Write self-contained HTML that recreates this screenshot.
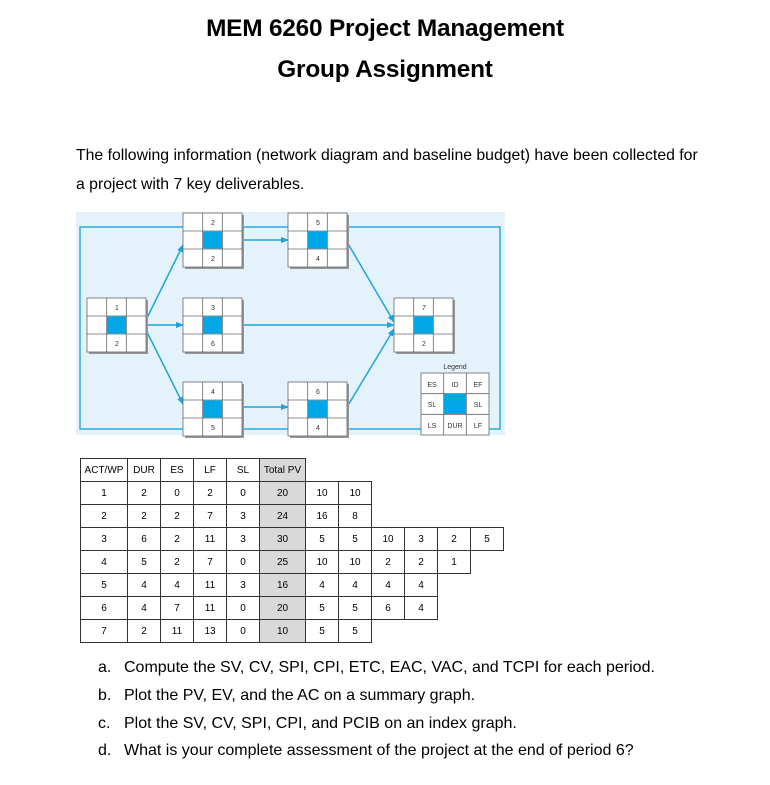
<!DOCTYPE html>
<html><head><meta charset="utf-8"><style>
body{margin:0;width:770px;height:785px;background:#fff;position:relative;font-family:"Liberation Sans",Arial,sans-serif;color:#000;overflow:hidden}
.t{position:absolute;white-space:nowrap}
h1{position:absolute;margin:0;width:770px;left:0;text-align:center;font-size:24.4px;font-weight:bold;letter-spacing:-0.2px}
table{position:absolute;border-collapse:collapse;font-size:10px;left:80px;top:458px}
td{border:1px solid #333;text-align:center;height:22px;padding:0;width:32px}
td.g{background:#d9d9d9}
td.n{border:none}
.q{position:absolute;white-space:nowrap;font-size:16px}
</style></head><body>
<h1 style="top:15px">MEM 6260 Project Management</h1>
<h1 style="top:56px">Group Assignment</h1>
<div class="t" style="left:76px;top:147px;font-size:15.8px">The following information (network diagram and baseline budget) have been collected for</div>
<div class="t" style="left:76px;top:176px;font-size:15.8px">a project with 7 key deliverables.</div>

<svg style="position:absolute;left:0;top:0" width="770" height="450" font-family="Liberation Sans,Arial,sans-serif">
<defs><marker id="a" markerWidth="8" markerHeight="8" refX="7" refY="4" orient="auto" markerUnits="userSpaceOnUse"><path d="M0,1 L8,4 L0,7 Z" fill="#1fa3dc"/></marker>
<g id="b"><rect x="2" y="2" width="59" height="54" fill="#999"/><rect x="0" y="0" width="59" height="54" fill="#fff" stroke="#666" stroke-width="0.8"/><line x1="19.7" y1="0" x2="19.7" y2="54" stroke="#666" stroke-width="0.8"/><line x1="39.3" y1="0" x2="39.3" y2="54" stroke="#666" stroke-width="0.8"/><line x1="0" y1="18" x2="59" y2="18" stroke="#666" stroke-width="0.8"/><line x1="0" y1="36" x2="59" y2="36" stroke="#666" stroke-width="0.8"/><rect x="20" y="18.5" width="19" height="17" fill="#00a7e6"/></g></defs>
<rect x="76" y="212" width="429" height="223" fill="#e4f3fb"/>
<rect x="80" y="227" width="420" height="202" fill="none" stroke="#29abe2" stroke-width="1.5"/>
<g stroke="#1fa3dc" stroke-width="1.5" fill="none" marker-end="url(#a)">
<line x1="145" y1="322" x2="183" y2="245"/>
<line x1="145" y1="325" x2="183" y2="325"/>
<line x1="145" y1="328" x2="183" y2="404"/>
<line x1="242" y1="240" x2="288" y2="240"/>
<line x1="242" y1="325" x2="394" y2="325"/>
<line x1="242" y1="407" x2="288" y2="407"/>
<line x1="347" y1="242" x2="394" y2="322"/>
<line x1="347" y1="407" x2="394" y2="329"/>
</g>
<use href="#b" x="87" y="298"/><use href="#b" x="183" y="213"/><use href="#b" x="288" y="213"/>
<use href="#b" x="183" y="298"/><use href="#b" x="394" y="298"/><use href="#b" x="183" y="382"/><use href="#b" x="288" y="382"/>
<g font-size="7" text-anchor="middle" fill="#333">
<text x="117" y="310">1</text><text x="117" y="346">2</text>
<text x="213" y="225">2</text><text x="213" y="261">2</text>
<text x="318" y="225">5</text><text x="318" y="261">4</text>
<text x="213" y="310">3</text><text x="213" y="346">6</text>
<text x="424" y="310">7</text><text x="424" y="346">2</text>
<text x="213" y="394">4</text><text x="213" y="430">5</text>
<text x="318" y="394">6</text><text x="318" y="430">4</text>
</g>
<rect x="421" y="373" width="68" height="62" fill="#fff" stroke="#666" stroke-width="0.8"/>
<g stroke="#666" stroke-width="0.8"><line x1="443.7" y1="373" x2="443.7" y2="435"/><line x1="466.3" y1="373" x2="466.3" y2="435"/><line x1="421" y1="393.7" x2="489" y2="393.7"/><line x1="421" y1="414.3" x2="489" y2="414.3"/></g>
<rect x="444" y="394" width="22" height="20" fill="#00a7e6"/>
<g font-size="7" text-anchor="middle" fill="#333">
<text x="455" y="369">Legend</text>
<text x="432" y="387">ES</text><text x="455" y="387">ID</text><text x="478" y="387">EF</text>
<text x="432" y="407">SL</text><text x="478" y="407">SL</text>
<text x="432" y="428">LS</text><text x="455" y="428">DUR</text><text x="478" y="428">LF</text>
</g>
</svg>

<table>
<tr><td style="width:46px">ACT/WP</td><td>DUR</td><td>ES</td><td>LF</td><td>SL</td><td class="g" style="width:45px">Total PV</td><td class="n"></td><td class="n"></td><td class="n"></td><td class="n"></td><td class="n"></td><td class="n"></td></tr>
<tr><td>1</td><td>2</td><td>0</td><td>2</td><td>0</td><td class="g">20</td><td>10</td><td>10</td><td class="n"></td><td class="n"></td><td class="n"></td><td class="n"></td></tr>
<tr><td>2</td><td>2</td><td>2</td><td>7</td><td>3</td><td class="g">24</td><td>16</td><td>8</td><td class="n"></td><td class="n"></td><td class="n"></td><td class="n"></td></tr>
<tr><td>3</td><td>6</td><td>2</td><td>11</td><td>3</td><td class="g">30</td><td>5</td><td>5</td><td>10</td><td>3</td><td>2</td><td>5</td></tr>
<tr><td>4</td><td>5</td><td>2</td><td>7</td><td>0</td><td class="g">25</td><td>10</td><td>10</td><td>2</td><td>2</td><td>1</td><td class="n"></td></tr>
<tr><td>5</td><td>4</td><td>4</td><td>11</td><td>3</td><td class="g">16</td><td>4</td><td>4</td><td>4</td><td>4</td><td class="n"></td><td class="n"></td></tr>
<tr><td>6</td><td>4</td><td>7</td><td>11</td><td>0</td><td class="g">20</td><td>5</td><td>5</td><td>6</td><td>4</td><td class="n"></td><td class="n"></td></tr>
<tr><td>7</td><td>2</td><td>11</td><td>13</td><td>0</td><td class="g">10</td><td>5</td><td>5</td><td class="n"></td><td class="n"></td><td class="n"></td><td class="n"></td></tr>
</table>

<div class="q" style="left:98px;top:659px">a.</div><div class="q" style="left:124px;top:659px">Compute the SV, CV, SPI, CPI, ETC, EAC, VAC, and TCPI for each period.</div>
<div class="q" style="left:98px;top:687px">b.</div><div class="q" style="left:124px;top:687px">Plot the PV, EV, and the AC on a summary graph.</div>
<div class="q" style="left:98px;top:715px">c.</div><div class="q" style="left:124px;top:715px">Plot the SV, CV, SPI, CPI, and PCIB on an index graph.</div>
<div class="q" style="left:98px;top:742px">d.</div><div class="q" style="left:124px;top:742px">What is your complete assessment of the project at the end of period 6?</div>
</body></html>
